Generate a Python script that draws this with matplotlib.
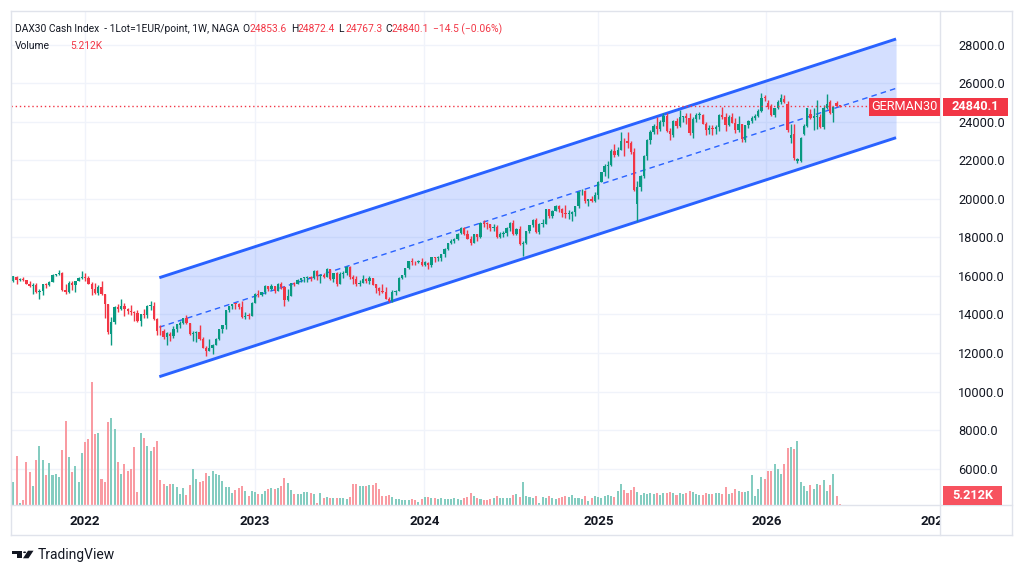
import matplotlib
matplotlib.use("Agg")
import matplotlib.pyplot as plt
from matplotlib.patches import Rectangle, Circle, Polygon
import numpy as np

plt.rcParams['font.family'] = ['Roboto', 'DejaVu Sans']

# weekly bars of the DAX30 cash index, first bar = week of 9 Aug 2021
opens = [
    15760, 15970, 15810, 15850, 15780, 15610, 15490, 15530, 15160, 15200, 15590, 15540, 15690, 16050, 16100, 16160, 15250, 15170, 15620, 15530, 15760,
    15890, 15950, 15880, 15600, 15320, 15100, 15420, 15040, 14560, 13000, 13630, 14410, 14300, 14450, 14280, 14160, 14140, 14100, 13670, 14020, 13980, 14460, 14460, 13760, 13120, 13120, 12810, 13010, 12860, 13250, 13480, 13570, 13800, 13540, 12970, 13050, 13090, 12740, 12280, 12110, 12270, 12440, 12730, 13240, 13460, 14220, 14430, 14540, 14530, 14370, 13890, 13940,
    13920, 14610, 15090, 15030, 15150, 15480, 15310, 15480, 15210, 15580, 15430, 14770, 14960, 15630, 15600, 15810, 15880, 15920, 15960, 15910, 16270, 15980, 16050, 15950, 16360, 15830, 16150, 15600, 16100, 16180, 16470, 15950, 15830, 15570, 15630, 15840, 15740, 15890, 15560, 15390, 15230, 15190, 14800, 14690, 15190, 15230, 15920, 16030, 16400, 16760, 16750, 16710,
    16750, 16590, 16700, 16560, 16960, 16920, 16930, 17120, 17420, 17740, 17820, 17940, 18210, 18490, 18180, 17930, 17740, 18160, 18000, 18770, 18700, 18690, 18500, 18560, 18000, 18160, 18240, 18480, 18750, 18170, 18420, 17660, 17720, 18320, 18630, 18910, 18300, 18700, 18720, 19470, 19120, 19370, 19660, 19460, 19250, 19210, 19210, 19320, 19630, 20390, 20400, 19890,
    19980, 19910, 20210, 20900, 21400, 21730, 21790, 22510, 22290, 22550, 23010, 22990, 22890, 22460, 19750, 20600, 21200, 22240, 23090, 23500, 23770, 23630, 24000, 24300, 23520, 23350, 24030, 23790, 24250, 24290, 24220, 23430, 24160, 24360, 24360, 23900, 23600, 23700, 23640, 23740, 24380, 24240, 23830, 24240, 23960, 23570, 23880, 23090, 23840, 24030,
    24190, 24300, 24560, 25260, 24970, 24800, 24360, 24710, 25050, 25200, 24950, 23150, 23400, 21950, 21950, 23360, 23810, 24400, 24190, 24280, 24280, 23760, 24740, 25060, 24450, 24970, 24853.6,
]
highs = [
    15980, 15990, 15900, 15950, 15810, 15740, 15640, 15650, 15300, 15600, 15640, 15750, 16080, 16120, 16290, 16200, 15570, 15740, 15720, 15760, 15960,
    16285, 16130, 16000, 15670, 15640, 15520, 15740, 15080, 14560, 13870, 14430, 14550, 14820, 14620, 14340, 14510, 14200, 14220, 14040, 14270, 14490, 14700, 14660, 13800, 13480, 13250, 13100, 13110, 13390, 13500, 13650, 13820, 13950, 13560, 13120, 13140, 13430, 12830, 12380, 12720, 12460, 12800, 13260, 13460, 14240, 14450, 14560, 14600, 14580, 14680, 14110, 14070,
    14650, 15100, 15270, 15190, 15520, 15480, 15560, 15490, 15660, 15710, 15480, 15330, 15650, 15690, 15830, 15920, 15930, 16010, 16010, 16330, 16330, 16080, 16130, 16430, 16360, 16170, 16210, 16190, 16280, 16530, 16530, 16060, 15980, 15800, 16040, 15900, 15990, 15900, 15610, 15450, 15570, 15420, 14910, 15250, 15290, 15950, 16050, 16440, 16790, 16960, 16800, 16810,
    16960, 16780, 16730, 16980, 17010, 17020, 17130, 17440, 17740, 17900, 17990, 18230, 18570, 18530, 18390, 18100, 18190, 18200, 18790, 18890, 18830, 18700, 18680, 18630, 18260, 18340, 18540, 18790, 18890, 18490, 18610, 17800, 18360, 18650, 18970, 18990, 18750, 18950, 19490, 19500, 19430, 19670, 19670, 19530, 19680, 19450, 19390, 19630, 20400, 20520, 20460, 20000,
    20130, 20340, 20920, 21420, 21800, 21950, 22620, 22840, 22690, 23480, 23190, 23480, 23020, 22650, 20950, 21250, 22300, 23100, 23570, 23910, 24240, 24080, 24480, 24480, 23700, 24090, 24200, 24640, 24330, 24470, 24480, 24250, 24460, 24500, 24420, 24020, 23840, 23860, 23830, 24400, 24770, 24480, 24340, 24450, 24220, 24290, 23890, 23850, 24090, 24330,
    24400, 24650, 25500, 25400, 25150, 24950, 24750, 25150, 25450, 25400, 25100, 23900, 23900, 22150, 23200, 23900, 24750, 24650, 24710, 25140, 24400, 24900, 25450, 25150, 24850, 25100, 24872.4,
]
lows = [
    15700, 15600, 15740, 15730, 15570, 15450, 15060, 15100, 14820, 15030, 15400, 15490, 15680, 15980, 16030, 15240, 15060, 15120, 15270, 15180, 15740,
    15830, 15760, 15580, 14990, 15070, 15020, 15000, 13810, 13000, 12440, 13500, 14150, 14230, 13920, 14000, 13980, 13670, 13600, 13380, 13800, 13840, 14250, 13740, 12940, 12950, 12710, 12390, 12620, 12800, 13110, 13280, 13500, 13500, 12940, 12600, 12550, 12690, 12260, 11860, 12080, 11960, 12400, 12700, 13050, 13260, 14140, 14290, 14300, 14260, 13840, 13790, 13790,
    13920, 14580, 14900, 14980, 15040, 15210, 15280, 15120, 15200, 15350, 14460, 14700, 14950, 15460, 15600, 15690, 15670, 15710, 15740, 15830, 15800, 15630, 15900, 15950, 15800, 15700, 15460, 15560, 15880, 16030, 15860, 15600, 15470, 15470, 15630, 15640, 15580, 15510, 15140, 15000, 15100, 14780, 14630, 14630, 15020, 15200, 15860, 15960, 16350, 16550, 16570, 16680,
    16530, 16520, 16350, 16490, 16730, 16800, 16760, 17000, 17330, 17640, 17710, 17880, 18180, 18110, 17900, 17630, 17700, 17800, 17980, 18560, 18460, 18340, 18360, 17950, 17950, 18010, 18070, 18320, 18150, 18150, 17600, 17020, 17640, 18250, 18520, 18240, 18170, 18530, 18710, 18990, 18990, 19360, 19320, 19050, 19000, 18970, 18840, 19140, 19550, 20230, 19800, 19650,
    19840, 19860, 20000, 20880, 21180, 21080, 21690, 22160, 22210, 22550, 22220, 22630, 22330, 20400, 18860, 20400, 21100, 22000, 22840, 23380, 23380, 23540, 23800, 23470, 23050, 23200, 23700, 23760, 23980, 23900, 23350, 23170, 24020, 24140, 23890, 23350, 23380, 23350, 23380, 23540, 24180, 23530, 23780, 23940, 23440, 23500, 22950, 22950, 23680, 23950,
    24100, 24250, 24500, 25100, 24650, 24300, 24250, 24650, 24950, 25000, 23500, 22900, 22050, 21850, 21900, 23300, 23750, 24150, 23580, 23660, 23700, 23650, 24700, 24400, 23980, 24820, 24767.3,
]
closes = [
    15977, 15808, 15852, 15781, 15609, 15490, 15531, 15156, 15206, 15587, 15543, 15688, 16054, 16094, 16160, 15257, 15169, 15623, 15532, 15756, 15885,
    15948, 15883, 15603, 15318, 15099, 15425, 15042, 14567, 13094, 13628, 14413, 14305, 14446, 14283, 14163, 14142, 14098, 13674, 14027, 13982, 14462, 14460, 13762, 13126, 13118, 12813, 13015, 12865, 13254, 13484, 13574, 13795, 13545, 12971, 13050, 13088, 12741, 12284, 12114, 12273, 12438, 12731, 13243, 13459, 14224, 14431, 14541, 14529, 14371, 13893, 13941, 13924,
    14610, 15087, 15033, 15150, 15476, 15308, 15482, 15210, 15578, 15428, 14768, 14957, 15629, 15598, 15808, 15882, 15922, 15961, 15914, 16275, 15983, 16051, 15949, 16358, 15830, 16148, 15603, 16105, 16177, 16469, 15952, 15832, 15575, 15632, 15840, 15740, 15893, 15557, 15387, 15230, 15187, 14798, 14688, 15189, 15234, 15919, 16029, 16398, 16759, 16751, 16706, 16752,
    16594, 16705, 16555, 16961, 16918, 16927, 17117, 17419, 17735, 17815, 17936, 18206, 18492, 18175, 17930, 17737, 18161, 18001, 18773, 18704, 18693, 18498, 18557, 18002, 18164, 18235, 18475, 18748, 18171, 18417, 17661, 17723, 18322, 18633, 18907, 18302, 18699, 18720, 19474, 19121, 19374, 19657, 19464, 19255, 19215, 19211, 19323, 19626, 20385, 20406, 19885, 19985,
    19906, 20215, 20903, 21395, 21732, 21787, 22514, 22287, 22551, 23009, 22987, 22892, 22462, 20450, 20600, 21206, 22242, 23087, 23499, 23767, 23630, 23997, 24304, 23516, 23351, 24033, 23787, 24255, 24290, 24218, 23426, 24163, 24359, 24363, 23902, 23597, 23698, 23639, 23739, 24378, 24241, 23830, 24240, 23958, 23570, 23877, 23091, 23837, 24028, 24186,
    24300, 24560, 25260, 25250, 24800, 24360, 24710, 25050, 25260, 25060, 23580, 23350, 22150, 22080, 23150, 23810, 24710, 24190, 24330, 24300, 23760, 24740, 24960, 24450, 24800, 24854.6, 24840.1,
]
# weekly volume, in units of about 5K
volume = [
    23, 49, 2, 5, 43, 33, 19, 45, 59, 45, 30, 42, 30, 31, 28, 55, 84, 48, 33, 39,
    23, 52, 63, 66, 123, 71, 72, 26, 23, 83, 87, 76, 43, 31, 41, 34, 36, 58, 13, 72,
    67, 59, 54, 58, 64, 25, 21, 19, 21, 21, 18, 11, 17, 10, 20, 36, 26, 23, 24, 32,
    29, 34, 31, 30, 24, 18, 18, 12, 15, 17, 19, 14, 9, 14, 13, 11, 11, 14, 16, 17,
    16, 17, 19, 27, 22, 15, 11, 11, 11, 13, 13, 12, 11, 2, 12, 7, 8, 7, 7, 7,
    7, 7, 6, 8,
    21, 21, 19, 19, 19, 20, 20, 22, 16, 9, 9, 10, 8, 6, 6, 5, 5, 5, 6, 5,
    3, 6, 8, 8, 7, 7, 6, 7, 6, 6, 6, 7, 6,
    5, 7, 8, 12, 9, 7, 6, 5, 5, 6, 7, 9, 7, 7, 7, 7, 10, 11, 8, 23,
    9, 8, 7, 9, 2, 8, 7, 9, 7, 6, 7, 8, 9, 8, 10, 7, 7, 6, 9, 4,
    7, 9, 8, 7, 9, 10, 9, 8, 14, 21, 15, 12, 15, 18, 13, 10, 12, 11, 12, 11,
    12, 10, 12, 12, 13, 12, 10, 12, 11, 12, 14, 13, 11, 10, 10, 12, 11, 11, 12, 12,
    11, 18, 11, 12, 16, 14, 13, 13, 14, 30, 9, 16, 28, 26, 34, 34, 41, 36, 31, 41,
    57, 58, 56, 64, 23, 19, 14, 20, 16, 21, 20, 25, 14, 20, 31, 9, 1,
]
assert len(opens) == len(highs) == len(lows) == len(closes) == len(volume) == 254

years = ['2022', '2023', '2024', '2025', '2026', '2027']
year_bars = [22.0, 74.0, 125.8, 179.1, 230.5, 282.4]
price_ticks = list(range(6000, 28001, 2000))

# parallel channel drawn on the chart (bar index, price)
chan_x = [44.7, 270.2]
chan_top = [15912, 28312]
chan_bot = [10769, 23184]

last_price = 24840.1
last_vol = '5.212K'

GREEN = '#089981'
RED = '#f23645'
BLUE = '#2962ff'
TXT = '#131722'
GRID = '#f0f3fa'

W, H = 1023, 576
def fx(px):
    return px / W
def fy(py):
    return 1 - py / H

fig = plt.figure(figsize=(W / 100, H / 100), dpi=100)
fig.patch.set_facecolor('white')

rect = [fx(11), fy(505), (940 - 11) / W, (505 - 11) / H]
ax = fig.add_axes(rect)
ax.set_xlim(-0.704, 283.65)
ax.set_ylim(4104, 29766)
for s in ax.spines.values():
    s.set_visible(False)

for p in price_ticks:
    ax.axhline(p, color=GRID, lw=1, zorder=0)
for xb in year_bars[:-1]:
    ax.axvline(xb, color=GRID, lw=1, zorder=0)

# channel
chan_mid = [(a + b) / 2 for a, b in zip(chan_top, chan_bot)]
ax.fill_between(chan_x, chan_bot, chan_top, color=BLUE, alpha=0.2, lw=0, zorder=1)
ax.plot(chan_x, chan_top, color=BLUE, lw=2.1, solid_capstyle='butt', zorder=2)
ax.plot(chan_x, chan_bot, color=BLUE, lw=2.1, solid_capstyle='butt', zorder=2)
ax.plot(chan_x, chan_mid, color=BLUE, lw=1.0, dashes=(4, 3), zorder=2)

# candles
o = np.array(opens, float)
h = np.array(highs, float)
l = np.array(lows, float)
c = np.array(closes, float)
x = np.arange(len(c))
up = c >= o
cols = np.where(up, GREEN, RED)
ax.vlines(x, np.minimum(l, np.minimum(o, c)), np.maximum(h, np.maximum(o, c)),
          colors=cols, lw=1, zorder=3)
body = np.maximum(np.abs(c - o), 45)
ax.bar(x, body, bottom=np.minimum(o, c), width=0.7, color=cols, lw=0, zorder=4)

ax.axhline(last_price, color=RED, lw=1, linestyle=(0, (1, 2)), zorder=5)

# price scale on the right
ax.yaxis.tick_right()
ax.set_yticks(price_ticks)
ax.set_yticklabels([f'{p:.1f}' for p in price_ticks])
ax.tick_params(axis='y', length=0, pad=13, labelsize=9.2, labelcolor=TXT)
ax.set_xticks(year_bars)
ax.set_xticklabels(years)
ax.tick_params(axis='x', length=0, pad=7, labelsize=9.5, labelcolor=TXT)
for t in ax.get_xticklabels():
    t.set_fontweight('bold')

# volume overlay
axv = fig.add_axes(rect, sharex=ax)
axv.patch.set_visible(False)
axv.axis('off')
axv.set_ylim(0, 494)
vcols = np.where(up, '#84ccc0', '#f99ba2')
axv.bar(x, volume, width=0.62, color=vcols, lw=0)

# frame lines
def hline(y, x0, x1):
    fig.add_artist(plt.Line2D([fx(x0), fx(x1)], [fy(y), fy(y)], color='#e0e3eb', lw=1))
def vline(xp, y0, y1):
    fig.add_artist(plt.Line2D([fx(xp), fx(xp)], [fy(y0), fy(y1)], color='#e0e3eb', lw=1))

# hide the clipped part of the last year label behind the price scale
fig.add_artist(Rectangle((fx(941), fy(534)), fx(1011) - fx(941), fy(506) - fy(534),
                         transform=fig.transFigure, fc='white', ec='none', zorder=2))
hline(11, 11, 1012)
hline(535, 11, 1012)
hline(505, 11, 1012)
vline(11, 11, 535)
vline(1012, 11, 535)
vline(940, 11, 535)

def box(x0, y0, x1, y1, color, text, weight='normal'):
    fig.add_artist(Rectangle((fx(x0), fy(y1)), fx(x1) - fx(x0), fy(y0) - fy(y1),
                             transform=fig.transFigure, fc=color, ec='none', zorder=3))
    fig.text(fx((x0 + x1) / 2), fy((y0 + y1) / 2), text, color='white', fontsize=9.2,
             ha='center', va='center', fontweight=weight, zorder=4)

box(869, 98, 940, 116, RED, 'GERMAN30')
box(943, 98, 1008, 116, RED, f'{last_price:.1f}', 'bold')
box(943, 486, 1002, 505, '#f7525f', last_vol, 'bold')

# legend line
fs = 7.4
ty = 29
fig.text(fx(15), fy(ty), 'DAX30 Cash Index  - 1Lot=1EUR/point, 1W, NAGA', color=TXT, fontsize=fs, va='center')
for lab, val, xl in [('O', opens[-1], 242.7), ('H', highs[-1], 290.7), ('L', lows[-1], 338.3), ('C', closes[-1], 385)]:
    fig.text(fx(xl), fy(ty), lab, color=TXT, fontsize=fs, va='center')
    fig.text(fx(xl + 6.8), fy(ty), f'{val:.1f}', color=RED, fontsize=fs, va='center')
chg = closes[-1] - closes[-2]
fig.text(fx(432.7), fy(ty), f'\u2212{abs(chg):.1f} (\u2212{abs(chg) / closes[-2] * 100:.2f}%)',
         color=RED, fontsize=fs, va='center')
fig.text(fx(15), fy(46), 'Volume', color=TXT, fontsize=fs, va='center')
fig.text(fx(70), fy(46), last_vol, color=RED, fontsize=fs, va='center')

# TradingView logo
k = '#131722'
fig.add_artist(Polygon([(fx(12), fy(550.7)), (fx(21.7), fy(550.7)), (fx(21.7), fy(558.3)),
                        (fx(16.5), fy(558.3)), (fx(16.5), fy(553.6)), (fx(12), fy(553.6))],
                       closed=True, transform=fig.transFigure, fc=k, ec='none'))
fig.add_artist(Circle((fx(24.6), fy(552.3)), 1.5 / W, transform=fig.transFigure, fc=k, ec='none'))
fig.add_artist(Polygon([(fx(28), fy(550.7)), (fx(33.5), fy(550.7)), (fx(28.5), fy(558.3)), (fx(23), fy(558.3))],
                       closed=True, transform=fig.transFigure, fc=k, ec='none'))
fig.text(fx(38), fy(555), 'TradingView', color=k, fontsize=10, va='center')

fig.savefig('out.png', dpi=100)
